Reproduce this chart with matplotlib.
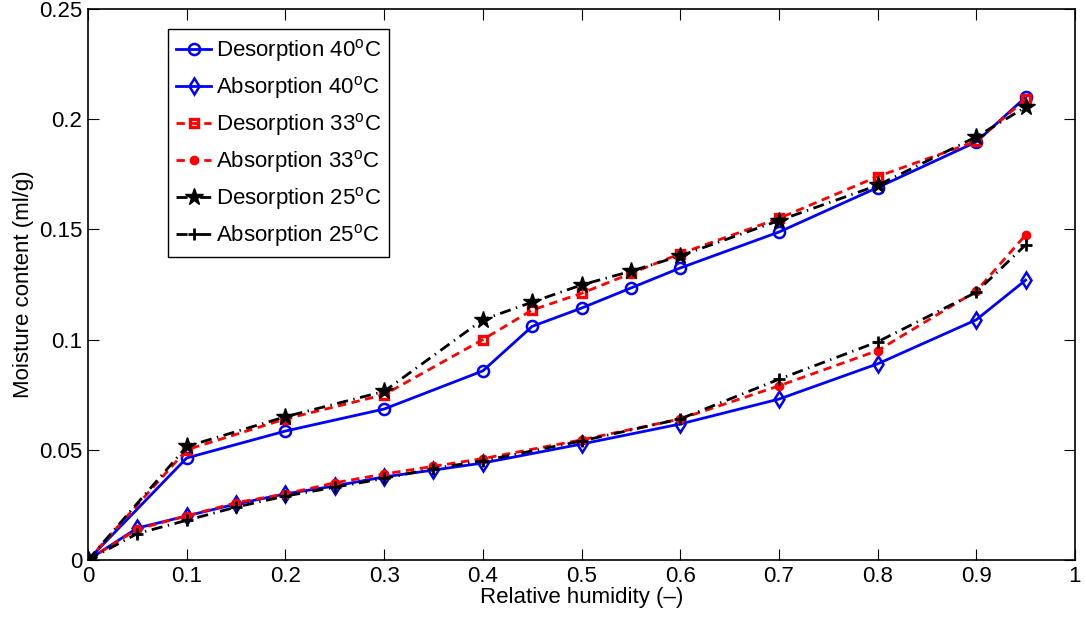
import numpy as np
import matplotlib
matplotlib.use('Agg')
import matplotlib.pyplot as plt
from matplotlib.ticker import FuncFormatter

plt.rcParams['font.family'] = ['Liberation Sans', 'DejaVu Sans']
plt.rcParams['mathtext.fontset'] = 'custom'
plt.rcParams['mathtext.rm'] = 'Liberation Sans'

# Datos
rh_des = [0, 0.1, 0.2, 0.3, 0.4, 0.45, 0.5, 0.55, 0.6, 0.7, 0.8, 0.9, 0.95]
rh_abs = [0, 0.05, 0.1, 0.15, 0.2, 0.25, 0.3, 0.35, 0.4, 0.5, 0.6, 0.7, 0.8, 0.9, 0.95]

des_40 = [0, 0.0463, 0.0585, 0.0685, 0.0858, 0.106, 0.1143, 0.1234, 0.1325, 0.1488, 0.169, 0.1897, 0.210]
abs_40 = [0, 0.0145, 0.020, 0.0254, 0.030, 0.0336, 0.0377, 0.0408, 0.044, 0.0526, 0.0617, 0.073, 0.089, 0.109, 0.127]
des_33 = [0, 0.050, 0.064, 0.075, 0.100, 0.1134, 0.121, 0.130, 0.139, 0.155, 0.174, 0.190, 0.209]
abs_33 = [0, 0.014, 0.020, 0.026, 0.030, 0.035, 0.039, 0.0425, 0.046, 0.0545, 0.064, 0.079, 0.095, 0.122, 0.1475]
des_25 = [0, 0.0515, 0.065, 0.0765, 0.109, 0.117, 0.1248, 0.131, 0.138, 0.154, 0.170, 0.192, 0.2055]
abs_25 = [0, 0.012, 0.018, 0.024, 0.029, 0.033, 0.037, 0.0415, 0.045, 0.054, 0.064, 0.082, 0.099, 0.1215, 0.143]

fig = plt.figure(figsize=(10.86, 6.2), dpi=100)
ax = fig.add_axes([88/1086, 60/620, 987/1086, 551/620])

deg = r'$^{\rm o}$C'
ax.plot(rh_des, des_40, '-', color='b', lw=2, marker='o', ms=8, mfc='none', mew=1.8,
        label='Desorption 40' + deg)
ax.plot(rh_abs, abs_40, '-', color='b', lw=2, marker='d', ms=8, mfc='none', mew=1.8,
        label='Absorption 40' + deg)
ax.plot(rh_des, des_33, '--', color='r', lw=2, marker='s', ms=6, mfc='none', mew=2.4,
        dashes=(3, 2), label='Desorption 33' + deg)
ax.plot(rh_abs, abs_33, '--', color='r', lw=2, marker='.', ms=12,
        dashes=(3, 2), label='Absorption 33' + deg)
ax.plot(rh_des, des_25, '-.', color='k', lw=2, marker='*', ms=13,
        dashes=(4, 2, 0.5, 2), label='Desorption 25' + deg)
ax.plot(rh_abs, abs_25, '-.', color='k', lw=2, marker='+', ms=9, mew=2,
        dashes=(4, 2, 0.5, 2), label='Absorption 25' + deg)

ax.set_xlim(0, 1)
ax.set_ylim(0, 0.25)
ax.set_xticks(np.arange(0, 1.01, 0.1))
ax.set_yticks(np.arange(0, 0.251, 0.05))
ax.xaxis.set_major_formatter(FuncFormatter(lambda v, p: ('%g' % round(v, 2))))
ax.yaxis.set_major_formatter(FuncFormatter(lambda v, p: ('%g' % round(v, 2))))
ax.tick_params(direction='in', top=True, right=True, length=8, labelsize=16, width=0.8, pad=4)
for s in ax.spines.values():
    s.set_linewidth(1.2)

ax.set_xlabel('Relative humidity (\u2013)', fontsize=16, labelpad=0)
ax.set_ylabel('Moisture content (ml/g)', fontsize=16, labelpad=4)

leg = ax.legend(loc='upper left', bbox_to_anchor=(0.081, 0.963), fontsize=16,
                handlelength=1.6, handletextpad=0.2, borderpad=0.35, labelspacing=0.45,
                borderaxespad=0, fancybox=False, edgecolor='k', framealpha=1)
leg.get_frame().set_linewidth(1.0)

fig.savefig('out.png', dpi=100)
